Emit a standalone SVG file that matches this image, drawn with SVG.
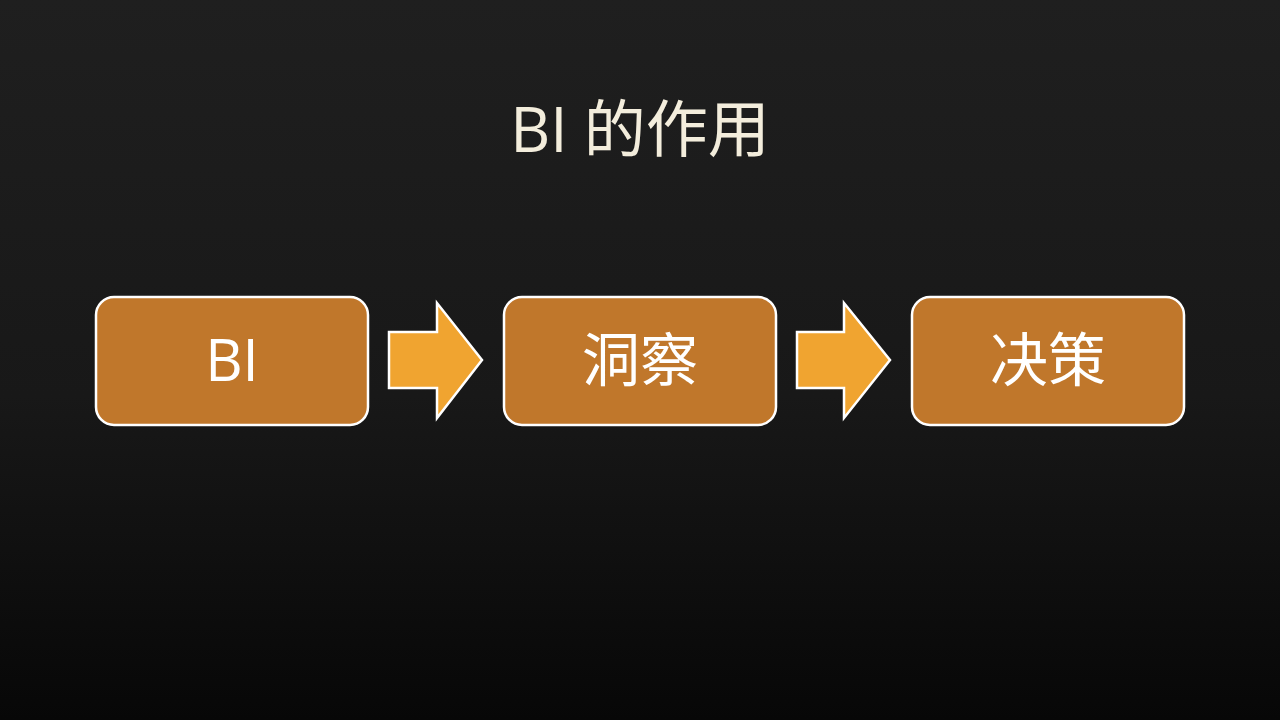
<svg xmlns="http://www.w3.org/2000/svg" width="1280" height="720" viewBox="0 0 1280 720">
<defs>
<linearGradient id="bg" x1="0" y1="0" x2="0" y2="1">
<stop offset="0" stop-color="#1f1f1f"/>
<stop offset="0.55" stop-color="#181818"/>
<stop offset="1" stop-color="#070707"/>
</linearGradient>
<style>
.box{fill:#C0772B;stroke:#ffffff;stroke-width:2.5}
.arr{fill:#F0A430;stroke:#ffffff;stroke-width:2.5;stroke-linejoin:miter}
.lbl{font-family:"Open Sans","Noto Sans CJK SC",sans-serif;font-size:58px;fill:#ffffff;text-anchor:middle}
.title{font-family:"Open Sans","Noto Sans CJK SC",sans-serif;font-size:62px;fill:#F3EDDC;text-anchor:middle}
</style>
</defs>
<rect width="1280" height="720" fill="url(#bg)"/>
<text class="title" x="640" y="152">BI 的作用</text>
<g id="node-bi"><rect class="box" x="96" y="297" width="272" height="128" rx="18"/><text class="lbl" x="232" y="381">BI</text></g>
<g id="node-insight"><rect class="box" x="504" y="297" width="272" height="128" rx="18"/><text class="lbl" x="640" y="381">洞察</text></g>
<g id="node-decision"><rect class="box" x="912" y="297" width="272" height="128" rx="18"/><text class="lbl" x="1048" y="381">决策</text></g>
<g id="connectors">
<polygon class="arr" points="389,332 437,332 437,303 482,360 437,418 437,388 389,388"/>
<polygon class="arr" points="797,332 844,332 844,303 890,360 844,418 844,388 797,388"/>
</g>
</svg>
